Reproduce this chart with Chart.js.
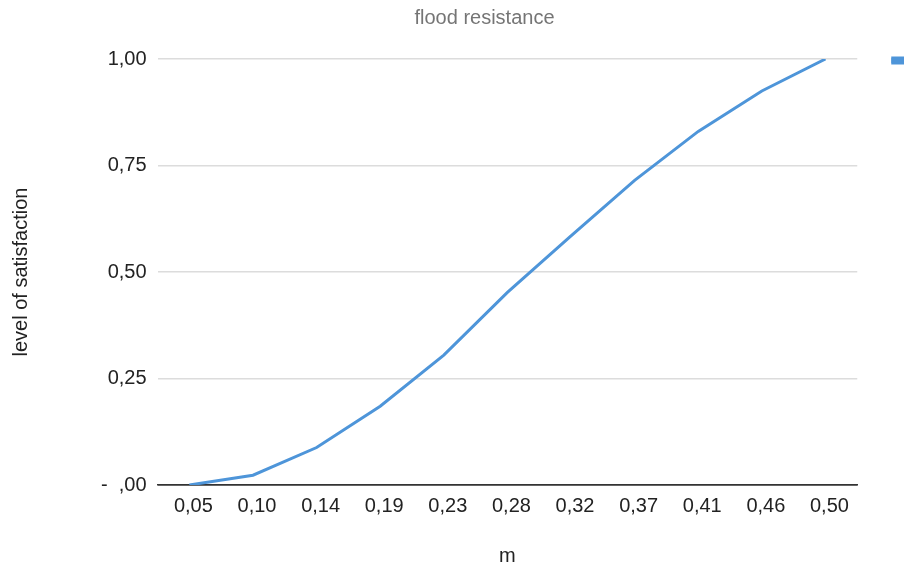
<!DOCTYPE html>
<html>
<head>
<meta charset="utf-8">
<script src="https://cdn.jsdelivr.net/npm/chart.js@4/dist/chart.umd.min.js"></script>
<style>
  html, body { margin: 0; padding: 0; background: #fff; }
  #wrap { width: 904px; height: 569px; overflow: hidden; position: relative; }
  #box { width: 960px; height: 569px; position: absolute; left: 0; top: 0; }
</style>
</head>
<body>
<div id="wrap"><div id="box"><canvas id="floodChart"></canvas></div></div>
<script>
// categories (m) and series values
const mLabels = ['0,05', '0,10', '0,14', '0,19', '0,23', '0,28', '0,32', '0,37', '0,41', '0,46', '0,50'];
const satisfaction = [0, 0.023, 0.088, 0.185, 0.305, 0.452, 0.585, 0.715, 0.83, 0.925, 1.0];
const yTicks = [0, 0.25, 0.5, 0.75, 1.0];

const lineColor = '#4e95d9';
const fontFamily = '"Liberation Sans", Arial, Helvetica, sans-serif';

function fmtTick(v) {
    if (v === 0) return '-  ,00';
    return v.toFixed(2).replace('.', ',');
}

new Chart(document.getElementById('floodChart'), {
    type: 'line',
    data: {
        labels: mLabels,
        datasets: [{
            label: 'level of satisfaction',
            data: satisfaction,
            borderColor: lineColor,
            backgroundColor: lineColor,
            borderWidth: 3,
            pointRadius: 0,
            tension: 0,
            fill: false
        }]
    },
    options: {
        responsive: true,
        maintainAspectRatio: false,
        animation: false,
        layout: { padding: { left: 9, right: 0, top: 0, bottom: 0 } },
        plugins: {
            title: {
                display: true,
                text: 'flood resistance',
                color: '#757575',
                font: { family: fontFamily, size: 20, weight: 'normal' },
                padding: { top: 6, bottom: 29 }
            },
            legend: {
                display: true,
                position: 'right',
                align: 'start',
                // blank legend title only pushes the (cut off) legend item down to the top gridline
                title: {
                    display: true,
                    text: ' ',
                    font: { family: fontFamily, size: 5 },
                    padding: { top: 0, bottom: 52 }
                },
                labels: {
                    boxWidth: 14,
                    boxHeight: 5,
                    padding: 0,
                    color: '#222',
                    font: { family: fontFamily, size: 5 }
                }
            },
            tooltip: { enabled: false }
        },
        scales: {
            x: {
                offset: true,
                grid: { display: false, drawTicks: false },
                border: { display: true, color: '#333', width: 1.5 },
                ticks: {
                    color: '#222',
                    padding: 9,
                    labelOffset: 4,
                    maxRotation: 0,
                    font: { family: fontFamily, size: 20 }
                },
                title: {
                    display: true,
                    text: 'm',
                    color: '#222',
                    font: { family: fontFamily, size: 20 },
                    padding: { top: 17, bottom: 1 }
                }
            },
            y: {
                min: 0,
                max: 1,
                afterBuildTicks: axis => { axis.ticks = yTicks.map(v => ({ value: v })); },
                grid: {
                    drawTicks: false,
                    lineWidth: 1.5,
                    color: ctx => ctx.tick && ctx.tick.value === 0 ? '#333' : '#dcdcdc'
                },
                border: { display: false },
                ticks: {
                    color: '#222',
                    padding: 11,
                    font: { family: fontFamily, size: 20 },
                    callback: v => fmtTick(v)
                },
                title: {
                    display: true,
                    text: 'level of satisfaction',
                    color: '#222',
                    font: { family: fontFamily, size: 20 },
                    padding: { top: 0, bottom: 57 }
                }
            },
            // empty right axis: only keeps the gap between plot and legend
            gap: {
                type: 'linear',
                position: 'right',
                display: true,
                grid: { display: false, drawTicks: false },
                border: { display: false },
                ticks: { display: false },
                afterFit: scale => { scale.width = 34; }
            }
        }
    }
});
</script>
</body>
</html>
